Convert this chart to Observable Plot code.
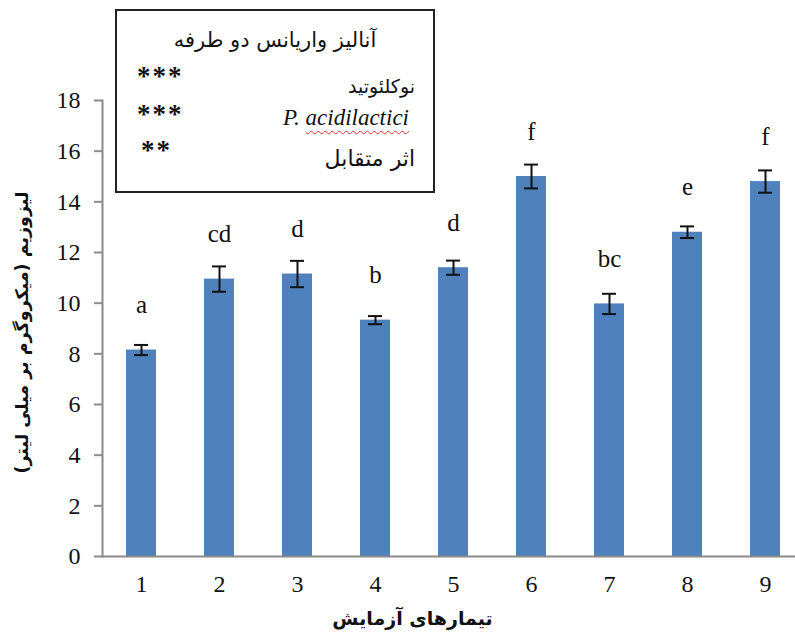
<!DOCTYPE html>
<html>
<head>
<meta charset="utf-8">
<script src="https://cdn.jsdelivr.net/npm/d3@7"></script>
<script src="https://cdn.jsdelivr.net/npm/@observablehq/plot@0.6"></script>
<style>
  body { margin: 0; background: #fff; }
  #chart { position: relative; width: 795px; height: 633px; overflow: hidden; }
  .anova {
    position: absolute; left: 115px; top: 9px; width: 316px; height: 180px;
    border: 2px solid #222; background: #fff; color: #111;
    font-family: "DejaVu Sans", sans-serif;
  }
  .anova div { position: absolute; line-height: 1; white-space: nowrap; }
  .anova .title { left: 0; right: 0; top: 19px; text-align: center; font-size: 21px; }
  .anova .stars { font-family: "Liberation Serif", serif; font-weight: bold; font-size: 27px; letter-spacing: 2px; }
  .anova .fa { right: 18px; direction: rtl; }
  .anova .sp { font-family: "Liberation Serif", serif; font-style: italic; font-size: 23px; right: 24px; }
  .anova .sp span { text-decoration: underline wavy #e03030; text-decoration-thickness: 1px; text-underline-offset: 5px; }
</style>
</head>
<body>
<div id="chart"></div>
<script>
// Lysozyme per treatment: means, standard errors and Duncan letter groups
const treatments = ["1", "2", "3", "4", "5", "6", "7", "8", "9"];
const means = [8.15, 10.95, 11.15, 9.33, 11.4, 15.0, 9.97, 12.8, 14.8];
const errors = [0.2, 0.5, 0.52, 0.16, 0.28, 0.47, 0.4, 0.23, 0.44];
const groups = ["a", "cd", "d", "b", "d", "f", "bc", "e", "f"];
const yTicks = [0, 2, 4, 6, 8, 10, 12, 14, 16, 18];

const yTitle = "لیزوزیم (میکروگرم بر میلی لیتر)";
const xTitle = "تیمارهای آزمایش";

// ANOVA summary box
const anovaTitle = "آنالیز واریانس دو طرفه";
const anovaFactors = ["نوکلئوتید", "P. acidilactici", "اثر متقابل"];
const anovaStars = ["***", "***", "**"];

const rows = treatments.map((t, i) => ({t, m: means[i], e: errors[i], g: groups[i]}));

const serif = "Liberation Serif, Times New Roman, serif";
const persian = "DejaVu Sans, sans-serif";

const plot = Plot.plot({
  width: 795,
  height: 633,
  marginTop: 100,
  marginBottom: 77,
  marginLeft: 102,
  marginRight: -9,
  style: {background: "transparent", color: "#111", overflow: "visible"},
  x: {domain: treatments, paddingInner: 0.615, paddingOuter: 0.3075, align: 0.5},
  y: {domain: [0, 18]},
  marks: [
    Plot.barY(rows, {x: "t", y: "m", fill: "#4F81BD"}),
    Plot.ruleX(rows, {x: "t", y1: d => d.m - d.e, y2: d => d.m + d.e, stroke: "#111", strokeWidth: 2}),
    Plot.tickY(rows, {x: "t", y: d => d.m + d.e, stroke: "#111", strokeWidth: 2, insetLeft: 8, insetRight: 8}),
    Plot.tickY(rows, {x: "t", y: d => d.m - d.e, stroke: "#111", strokeWidth: 2, insetLeft: 8, insetRight: 8}),
    Plot.text(rows, {x: "t", y: "m", text: "g", lineAnchor: "bottom", dy: -37,
      fontFamily: serif, fontSize: 25, fill: "#111"}),
    Plot.frame({anchor: "left", stroke: "#8a8a8a", strokeWidth: 2}),
    Plot.frame({anchor: "bottom", stroke: "#8a8a8a", strokeWidth: 2}),
    Plot.axisY({ticks: yTicks, tickSize: 8, tickPadding: 14, stroke: "#8a8a8a", strokeWidth: 2,
      fill: "#111", fontSize: 24, fontFamily: serif, label: null}),
    Plot.axisX({tickSize: 0, tickPadding: 18, fill: "#111", fontSize: 24, fontFamily: serif, label: null}),
    Plot.text([yTitle], {text: d => d, frameAnchor: "left", textAnchor: "middle", rotate: -90, dx: -80, dy: 4,
      fontFamily: persian, fontWeight: "bold", fontSize: 17.5, fill: "#111"}),
    Plot.text([xTitle], {text: d => d, frameAnchor: "bottom", dx: -41, dy: 68,
      fontFamily: persian, fontWeight: "bold", fontSize: 19, fill: "#111"})
  ]
});

const chart = document.getElementById("chart");
chart.appendChild(plot);

// Summary box drawn over the upper-left of the plot
const box = document.createElement("div");
box.className = "anova";
const title = document.createElement("div");
title.className = "title";
title.textContent = anovaTitle;
box.appendChild(title);
const rowTops = [52, 90, 126];
const starLefts = [20, 20, 24];
anovaFactors.forEach((f, i) => {
  const s = document.createElement("div");
  s.className = "stars";
  s.textContent = anovaStars[i];
  s.style.left = starLefts[i] + "px";
  s.style.top = rowTops[i] + "px";
  box.appendChild(s);
  const l = document.createElement("div");
  if (i === 1) {
    l.className = "sp";
    const [genus, species] = f.split(" ");
    l.append(genus + " ");
    const sp = document.createElement("span");
    sp.textContent = species;
    l.appendChild(sp);
    l.style.top = (rowTops[i] + 5) + "px";
  } else {
    l.className = "fa";
    l.textContent = f;
    l.style.fontSize = i === 0 ? "19px" : "22px";
    l.style.top = (rowTops[i] + (i === 0 ? 14 : 11)) + "px";
  }
  box.appendChild(l);
});
chart.appendChild(box);
</script>
</body>
</html>
